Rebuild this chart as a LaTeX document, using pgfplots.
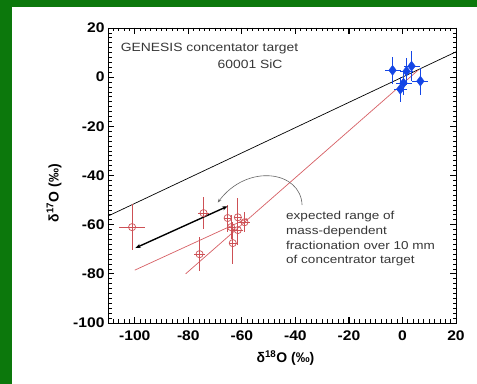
\documentclass[border=0pt]{standalone}
\usepackage{fontspec}
\setmainfont{Liberation Sans}
\usepackage{pgfplots}
\pgfplotsset{compat=1.18}
\usetikzlibrary{arrows.meta,backgrounds}
\definecolor{bggreen}{RGB}{12,120,12}
\definecolor{ptred}{RGB}{205,80,85}
\definecolor{lnred}{RGB}{215,95,100}
\definecolor{ptblue}{RGB}{20,70,230}
\definecolor{txtgray}{RGB}{55,55,55}
\begin{document}
\begin{tikzpicture}
\begin{axis}[
  at={(0,0)}, anchor=south west,
  scale only axis, width=348bp, height=295bp,
  xmin=-110, xmax=20, ymin=-100, ymax=20,
  xtick={-100,-80,...,20}, ytick={-100,-80,...,20},
  minor x tick num=9, minor y tick num=9,
  major tick length=6bp, minor tick length=3.5bp,
  tick align=inside, xtick pos=both, ytick pos=both,
  every tick/.append style={black, line width=0.8pt},
  /pgf/number format/assume math mode=true,
  tick label style={font=\fontsize{14}{14}\selectfont\bfseries},
  xticklabel style={yshift=-4bp},
  xticklabel={\scalebox{1.12}[1]{\pgfmathprintnumber{\tick}}},
  yticklabel={\scalebox{1.12}[1]{\pgfmathprintnumber{\tick}}},
  xlabel={δ\textsuperscript{18}O (‰)},
  ylabel={δ\textsuperscript{17}O (‰)},
  every axis label/.append style={font=\fontsize{14}{14}\selectfont\bfseries},
  xlabel style={at={(axis description cs:0.51,0)}, anchor=center, yshift=-35bp},
  ylabel style={at={(axis description cs:0,0.44)}, anchor=center, yshift=54bp},
]
\addplot[black, line width=0.7pt] coordinates {(-110,-56.5) (20,10.3)};
\addplot[lnred, line width=0.7pt] coordinates {(-81,-80) (6,3)};
\addplot[lnred, line width=0.7pt] coordinates {(-100,-78.5) (-58,-57.5)};
\addplot[only marks, mark=o, mark size=3.6pt, color=ptred, mark options={fill=white, line width=0.7pt},
  error bars/.cd, x dir=both, x explicit, y dir=both, y explicit,
  error mark=none, error bar style={ptred, line width=0.7pt}]
  table[x=x, y=y, x error=ex, y error=ey] {
x y ex ey
-101 -61 5 9.5
-74.3 -55.3 2 6.5
-75.8 -72 2 7
-65.3 -57.3 1.5 5.5
-61.5 -57 1.5 8
-59 -59 2 4
-61.5 -62.2 2 6
-63.4 -67.5 1.5 8.5
-64 -61 1.5 5
};
\addplot[only marks, mark=diamond*, mark size=5pt, color=ptblue,
  error bars/.cd, x dir=both, x explicit, y dir=both, y explicit,
  error mark=none, error bar style={ptblue, line width=1.1pt}]
  table[x=x, y=y, x error=ex, y error=ey] {
x y ex ey
-3.7 2.8 3 5.5
3.4 4.5 3 6
1.5 2.4 2.5 5.5
0.4 -2.4 3 5
-0.8 -4.9 2.5 5
6.7 -1.6 3 5.5
};
\draw[black, line width=1.4pt, {Stealth[length=5.5pt]}-{Stealth[length=5.5pt]}] (axis cs:-99.8,-69.5) -- (axis cs:-65.3,-52.5);
\draw[gray!80!black, line width=0.6pt, -{Stealth[length=4pt]}] (axis cs:-37.5,-52) .. controls (axis cs:-38,-38) and (axis cs:-58,-35) .. (axis cs:-69,-51);
\node[anchor=west, font=\fontsize{12}{12}\selectfont, text=txtgray] at (axis cs:-106.5,11.8) {\scalebox{1.16}[1]{GENESIS concentator target}};
\node[anchor=east, font=\fontsize{12}{12}\selectfont, text=txtgray] at (axis cs:-43.5,5.3) {\scalebox{1.16}[1]{60001 SiC}};
\node[anchor=north west, align=left, font=\fontsize{11.5}{15}\selectfont, text=txtgray, inner sep=0pt] at (axis cs:-43.5,-54.3) {\scalebox{1.18}[1]{expected range of}\\\scalebox{1.18}[1]{mass-dependent}\\\scalebox{1.18}[1]{fractionation over 10 mm}\\\scalebox{1.18}[1]{of concentrator target}};
\end{axis}
% tick combs on all four sides of the axis box
\foreach \x in {-110,-108,...,20} {
  \pgfmathsetmacro\px{(\x+110)/130*348}
  \draw[black, line width=0.8pt] (\px bp,0bp) -- (\px bp,3.5bp);
  \draw[black, line width=0.8pt] (\px bp,295bp) -- (\px bp,291.5bp);
}
\foreach \x in {-100,-80,...,20} {
  \pgfmathsetmacro\px{(\x+110)/130*348}
  \draw[black, line width=0.9pt] (\px bp,0bp) -- (\px bp,6bp);
  \draw[black, line width=0.9pt] (\px bp,295bp) -- (\px bp,289bp);
}
\foreach \y in {-100,-98,...,20} {
  \pgfmathsetmacro\py{(\y+100)/120*295}
  \draw[black, line width=0.8pt] (0bp,\py bp) -- (3.5bp,\py bp);
  \draw[black, line width=0.8pt] (348bp,\py bp) -- (344.5bp,\py bp);
}
\foreach \y in {-100,-80,...,20} {
  \pgfmathsetmacro\py{(\y+100)/120*295}
  \draw[black, line width=0.9pt] (0bp,\py bp) -- (6bp,\py bp);
  \draw[black, line width=0.9pt] (348bp,\py bp) -- (342bp,\py bp);
}
\begin{scope}[on background layer]
\fill[bggreen] (-108bp,-61bp) rectangle (369bp,323bp);
\fill[white] (-96bp,-61bp) rectangle (369bp,316bp);
\end{scope}
\end{tikzpicture}
\end{document}
